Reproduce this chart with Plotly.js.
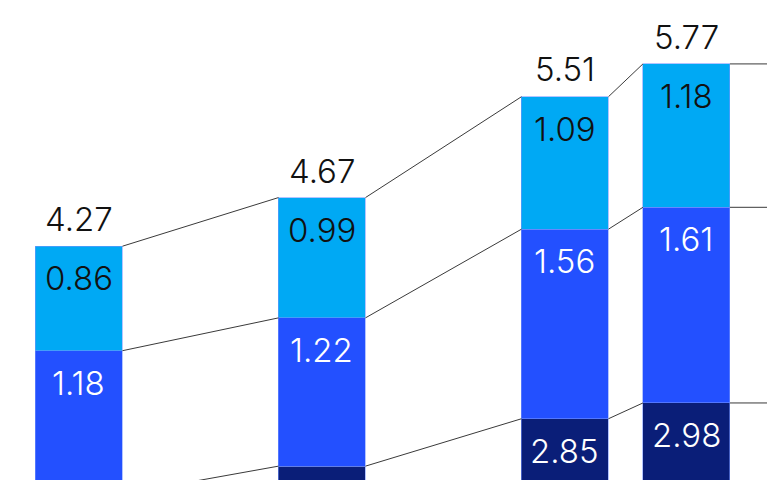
<!DOCTYPE html>
<html>
<head>
<meta charset="utf-8">
<script src="https://cdn.plot.ly/plotly-3.0.1.min.js"></script>
<style>
  html, body { margin: 0; padding: 0; background: #fff; }
  #plot { width: 767px; height: 480px; }
</style>
</head>
<body>
<div id="plot"></div>
<script>
// positions of the bars on a numeric axis (the 5th bar sits off the right edge)
const xPos = [0, 2, 4, 5, 7];
const base = [2.23, 2.46, 2.85, 2.98, 2.98];
const middle = [1.18, 1.22, 1.56, 1.61, 1.61];
const top_ = [0.86, 0.99, 1.09, 1.18, 1.18];
const totals = [4.27, 4.67, 5.51, 5.77, 5.77];

const colors = ["#0a1e78", "#2350ff", "#00a9f4"];
const labelColors = ["#ffffff", "#ffffff", "#111111"];
const barWidth = 0.716;
const xRange = [-0.65, 5.663];
const yRange = [2.346, 6.296];
const font = { family: "Inter, 'Liberation Sans', sans-serif", size: 33, weight: 300 };

const segments = [base, middle, top_];

const barTraces = segments.map((vals, i) => ({
  type: "bar",
  x: xPos,
  y: vals,
  width: barWidth,
  marker: { color: colors[i], line: { color: "rgba(120,150,255,0.7)", width: 0.8 } },
  hoverinfo: "skip",
  showlegend: false,
}));

// cumulative heights of each segment boundary
const levels = segments.map((_, i) =>
  xPos.map((_, j) => segments.slice(0, i + 1).reduce((s, a) => s + a[j], 0))
);

// thin connector lines from the top-right corner of one bar to the top-left of the next
const lineTraces = [];
levels.forEach((lvl) => {
  for (let j = 0; j < xPos.length - 1; j++) {
    lineTraces.push({
      type: "scatter",
      mode: "lines",
      x: [xPos[j] + barWidth / 2, xPos[j + 1] - barWidth / 2],
      y: [lvl[j], lvl[j + 1]],
      line: { color: "#3a3a3a", width: 1 },
      hoverinfo: "skip",
      showlegend: false,
      cliponaxis: true,
    });
  }
});

// labels sit ~32px under the segment top; those that fall below the crop are not drawn
const pxPerUnit = 480 / (yRange[1] - yRange[0]);
const annotations = [];
xPos.forEach((x, j) => {
  if (x > xRange[1]) return;
  segments.forEach((vals, i) => {
    if (levels[i][j] - 50 / pxPerUnit < yRange[0]) return;
    annotations.push({
      x: x,
      y: levels[i][j],
      text: vals[j].toFixed(2),
      showarrow: false,
      yanchor: "middle",
      yshift: -32,
      font: { ...font, color: labelColors[i] },
    });
  });
  annotations.push({
    x: x,
    y: totals[j],
    text: totals[j].toFixed(2),
    showarrow: false,
    yanchor: "middle",
    yshift: 27,
    font: { ...font, color: "#111111" },
  });
});

const layout = {
  width: 767,
  height: 480,
  margin: { l: 0, r: 0, t: 0, b: 0 },
  paper_bgcolor: "#ffffff",
  plot_bgcolor: "#ffffff",
  barmode: "stack",
  xaxis: { range: xRange, showgrid: false, zeroline: false, showticklabels: false, fixedrange: true },
  yaxis: { range: yRange, showgrid: false, zeroline: false, showticklabels: false, fixedrange: true },
  annotations,
};

Plotly.newPlot(document.querySelector("#plot"), [...barTraces, ...lineTraces], layout, {
  displayModeBar: false,
  staticPlot: true,
});
</script>
</body>
</html>
